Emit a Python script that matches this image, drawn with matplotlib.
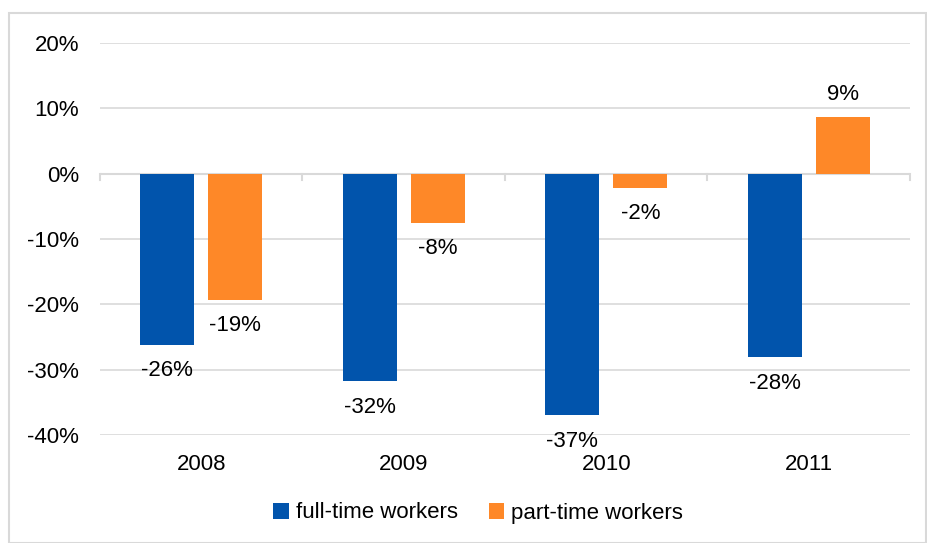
import matplotlib
matplotlib.use("Agg")
import matplotlib.pyplot as plt
from matplotlib.patches import Rectangle
import numpy as np

plt.rcParams['font.family'] = ['Liberation Sans', 'DejaVu Sans']

years = ["2008", "2009", "2010", "2011"]
full_time = [-26.2, -31.8, -37.0, -28.1]
part_time = [-19.3, -7.5, -2.2, 8.6]
full_labels = ["-26%", "-32%", "-37%", "-28%"]
part_labels = ["-19%", "-8%", "-2%", "9%"]
yticks = [20, 10, 0, -10, -20, -30, -40]

blue = "#0154AC"
orange = "#FE8828"
FS = 16

W, H = 928, 543
fig = plt.figure(figsize=(W / 100, H / 100), dpi=100)
ax = fig.add_axes([100 / W, 1 - 435 / H, (910 - 100) / W, (435 - 43) / H])

x = np.arange(len(years))
bw = 0.267
off = 0.168
b1 = ax.bar(x - off, full_time, bw, color=blue, label="full-time workers", zorder=3)
b2 = ax.bar(x + off, part_time, bw, color=orange, label="part-time workers", zorder=3)

ax.set_xlim(-0.5, 3.5)
ax.set_ylim(-40, 20)
ax.set_yticks(yticks)
ax.set_yticklabels([f"{t}%" for t in yticks], fontsize=FS)
ax.set_xticks(x)
ax.set_xticklabels(years, fontsize=FS)
ax.tick_params(axis='x', length=0, pad=14)
ax.tick_params(axis='y', length=0, pad=15)
ax.grid(axis='y', color="#D9D9D9", linewidth=1.2, zorder=0)
for s in ax.spines.values():
    s.set_visible(False)

# zero axis line with category boundary ticks
ax.axhline(0, color="#D9D9D9", linewidth=1.5, zorder=2)
for b in np.arange(-0.5, 4.0, 1.0):
    ax.plot([b, b], [0, -0.9], color="#D9D9D9", linewidth=1.5, zorder=2, clip_on=False)

def lab(bars, labels):
    for r, t in zip(bars, labels):
        h = r.get_height()
        cx = r.get_x() + r.get_width() / 2
        if h < 0:
            ax.annotate(t, (cx, h), xytext=(0, -11), textcoords="offset points",
                        ha="center", va="top", fontsize=FS)
        else:
            ax.annotate(t, (cx, h), xytext=(0, 9), textcoords="offset points",
                        ha="center", va="bottom", fontsize=FS)

lab(b1, full_labels)
lab(b2, part_labels)

leg = fig.legend(handles=[b1, b2], loc="center", bbox_to_anchor=(478 / W, 1 - 513 / H),
                 ncol=2, frameon=False, fontsize=FS, handlelength=0.7, handleheight=0.7,
                 handletextpad=0.3, columnspacing=1.4)

fig.patches.append(Rectangle((9 / W, 0), (926 - 9) / W, 1 - 13 / H, transform=fig.transFigure,
                             fill=False, edgecolor="#D9D9D9", linewidth=1.5))

fig.savefig("out.png", dpi=100)
